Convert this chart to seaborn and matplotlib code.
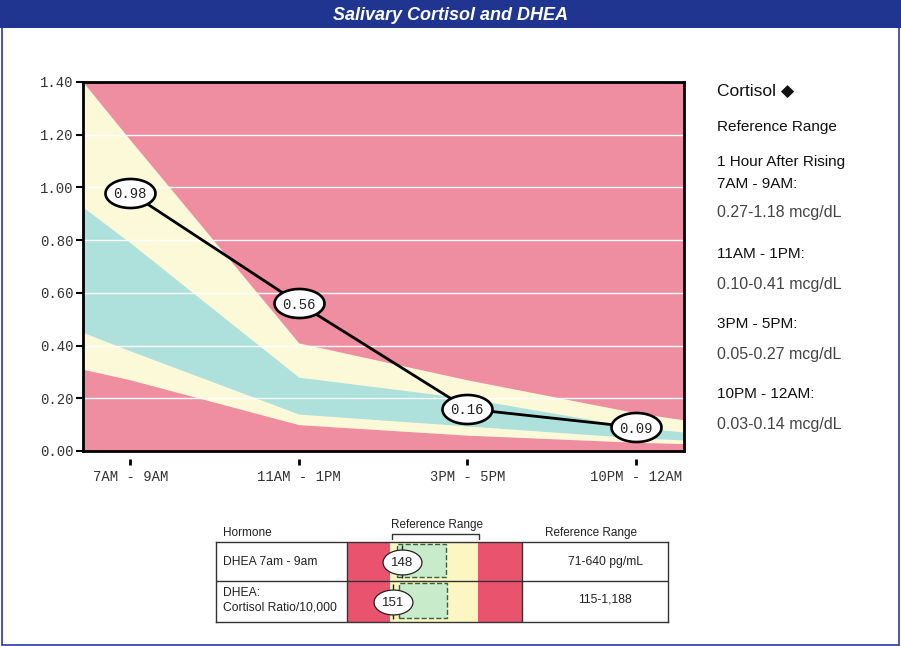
import numpy as np
import pandas as pd
import matplotlib
matplotlib.use("Agg")
import matplotlib.pyplot as plt
import matplotlib.transforms as mtransforms
from matplotlib.patches import Rectangle
from matplotlib.lines import Line2D
from matplotlib.path import Path
import seaborn as sns

# ---------------- data ----------------
times = ["7AM - 9AM", "11AM - 1PM", "3PM - 5PM", "10PM - 12AM"]
cortisol = [0.98, 0.56, 0.16, 0.09]
ref_low = [0.27, 0.10, 0.06, 0.033]
ref_high = [1.18, 0.41, 0.27, 0.145]
opt_low = [0.38, 0.14, 0.095, 0.05]
opt_high = [0.79, 0.28, 0.20, 0.09]
# band values where the bands meet the left / right plot edges
edge_ref_low = [0.31, 0.028]
edge_ref_high = [1.40, 0.118]
edge_opt_low = [0.45, 0.042]
edge_opt_high = [0.925, 0.072]

y_ticks = [0.0, 0.2, 0.4, 0.6, 0.8, 1.0, 1.2, 1.4]
y_tick_labels = ["0.00", "0.20", "0.40", "0.60", "0.80", "1.00", "1.20", "1.40"]

range_labels = ["7AM - 9AM:", "11AM - 1PM:", "3PM - 5PM:", "10PM - 12AM:"]
range_texts = ["0.27-1.18 mcg/dL", "0.10-0.41 mcg/dL", "0.05-0.27 mcg/dL", "0.03-0.14 mcg/dL"]

hormones = ["DHEA 7am - 9am", "DHEA:\nCortisol Ratio/10,000"]
hormone_values = [148, 151]
hormone_ref_low = [71, 115]
hormone_ref_high = [640, 1188]
hormone_opt_low = [115, 225]
hormone_opt_high = [430, 810]
hormone_ref_text = ["71-640 pg/mL", "115-1,188"]

# ---------------- style ----------------
PINK = "#ef8da1"
CREAM = "#fcf9d9"
TEAL = "#aee0dc"
RED = "#e9536d"
YELLOW = "#fbf6c2"
GREEN = "#c8ecca"
MONO = "Liberation Mono"

sns.set_theme(style="white")
plt.rcParams["font.family"] = ["Liberation Sans", "DejaVu Sans"]

W, H = 901, 646
fig = plt.figure(figsize=(W / 100, H / 100), dpi=100)
fig.patch.set_facecolor("white")


def fx(px):
    return px / W


def fy(py):
    return 1 - py / H


def ellipse_marker(ratio):
    t = np.linspace(0, 2 * np.pi, 121)
    return Path(np.column_stack([np.cos(t), ratio * np.sin(t)]))


# page frame and title bar
fig.add_artist(Rectangle((fx(2), fy(645)), fx(897), 643 / H, transform=fig.transFigure,
                         fill=False, ec="#2b3a9a", lw=1.2))
fig.add_artist(Rectangle((0, fy(28)), 1, 28 / H, transform=fig.transFigure,
                         fc="#1f3590", ec="none"))
fig.text(0.5, fy(15), "Salivary Cortisol and DHEA", color="white", fontsize=13,
         fontweight="bold", fontstyle="italic", ha="center", va="center")

# ---------------- main chart ----------------
L, R, T, B = 83, 684, 82, 451
ax = fig.add_axes([fx(L), fy(B), (R - L) / W, (B - T) / H])
ax.set_facecolor(PINK)
x0, x1 = -0.28, 3.285
pos = np.arange(len(times))
xs = np.concatenate([[x0], pos, [x1]])


def band(edge, vals):
    return np.array([edge[0]] + list(vals) + [edge[1]])


ax.fill_between(xs, band(edge_ref_low, ref_low), band(edge_ref_high, ref_high),
                color=CREAM, lw=0, zorder=1)
ax.fill_between(xs, band(edge_opt_low, opt_low), band(edge_opt_high, opt_high),
                color=TEAL, lw=0, zorder=1.1)
for yv in y_ticks[1:-1]:
    ax.axhline(yv, color="white", lw=1, zorder=2)

df = pd.DataFrame({"pos": pos, "cortisol": cortisol})
sns.lineplot(data=df, x="pos", y="cortisol", color="black", lw=2, ax=ax, zorder=3)
sns.scatterplot(data=df, x="pos", y="cortisol", marker=ellipse_marker(0.58), s=36 ** 2,
                color="white", edgecolor="black", linewidth=1.9, ax=ax, zorder=4)
for p, v in zip(pos, cortisol):
    ax.text(p, v, f"{v:.2f}", ha="center", va="center_baseline", family=MONO, fontsize=10,
            color="#222222", zorder=5)

ax.set_xlim(x0, x1)
ax.set_ylim(0, 1.4)
ax.set_xlabel("")
ax.set_ylabel("")
ax.set_yticks(y_ticks)
ax.set_yticklabels(y_tick_labels, family=MONO, fontsize=10, color="#333333")
ax.set_xticks(pos)
ax.set_xticklabels(times, family=MONO, fontsize=10, color="#333333")
ax.tick_params(axis="y", left=True, length=5, width=1.5, color="black", direction="out", pad=2)
ax.tick_params(axis="x", bottom=False, length=0, pad=14)
for s in ax.spines.values():
    s.set_visible(True)
    s.set_color("black")
    s.set_linewidth(2)
    s.set_zorder(6)
trans = mtransforms.blended_transform_factory(ax.transData, ax.transAxes)
ax.vlines(pos, -14 / 369, -8 / 369, transform=trans, color="black", lw=2, clip_on=False)

# ---------------- right panel ----------------
tx = fx(717)
fig.text(tx, fy(96), "Cortisol \u25c6", fontsize=12.5, color="#111111", va="baseline",
         family=["Liberation Sans", "DejaVu Sans"])
fig.text(tx, fy(131.5), "Reference Range", fontsize=11, color="#111111", va="baseline")
fig.text(tx, fy(166), "1 Hour After Rising", fontsize=11, color="#111111", va="baseline")
label_base = [188, 258, 328, 398]
value_base = [217.5, 289, 359, 429]
for lab, val, lb, vb in zip(range_labels, range_texts, label_base, value_base):
    fig.text(tx, fy(lb), lab, fontsize=11, color="#111111", va="baseline")
    fig.text(tx, fy(vb), val, fontsize=11.5, color="#444444", va="baseline")

# ---------------- DHEA table ----------------
TL, TR, TT, TB = 216, 668, 542, 622
row_bounds = [542, 581, 622]
c1, c2 = 347, 522
ys, ye = 390, 478  # yellow (reference range) pixel span inside bar column

for i in range(len(hormones)):
    top, bot = row_bounds[i], row_bounds[i + 1]
    rax = fig.add_axes([fx(c1), fy(bot), (c2 - c1) / W, (bot - top) / H])
    lo, hi = hormone_ref_low[i], hormone_ref_high[i]
    span = hi - lo
    xa = lo - span * (ys - c1) / (ye - ys)
    xb = hi + span * (c2 - ye) / (ye - ys)
    rax.set_xlim(xa, xb)
    rax.set_ylim(0, 1)
    rax.axis("off")
    rax.axvspan(xa, lo, color=RED, lw=0)
    rax.axvspan(lo, hi, color=YELLOW, lw=0)
    rax.axvspan(hi, xb, color=RED, lw=0)
    olo, ohi = hormone_opt_low[i], hormone_opt_high[i]
    rax.add_patch(Rectangle((olo, 0.09), ohi - olo, 0.86, fc=GREEN, ec="#3d5e45",
                            ls="--", lw=1, zorder=2))
    v = hormone_values[i]
    rax.vlines(v, 0.08, 0.92, color="#222222", lw=1, zorder=3)
    rax.scatter([v], [0.5], marker=ellipse_marker(0.64), s=28 ** 2, color="white",
                edgecolor="#222222", linewidth=0.9, zorder=4)
    rax.text(v, 0.5, str(v), ha="center", va="center_baseline", fontsize=9.5,
             color="#222222", zorder=5)

tax = fig.add_axes([fx(TL), fy(TB), (TR - TL) / W, (TB - TT) / H])
tax.set_xlim(TL, TR)
tax.set_ylim(TB, TT)
tax.patch.set_alpha(0)
tax.set_xticks([])
tax.set_yticks([])
for s in tax.spines.values():
    s.set_visible(True)
    s.set_color("#333333")
    s.set_linewidth(1)
tax.axhline(row_bounds[1], color="#333333", lw=1)
tax.axvline(c1, color="#333333", lw=1)
tax.axvline(c2, color="#333333", lw=1)
row_centers = [562, 600]
for name, rtxt, rc in zip(hormones, hormone_ref_text, row_centers):
    tax.text(223, rc, name, fontsize=8.7, color="#222222", va="center", ha="left", linespacing=1.3)
    tax.text(605, rc, rtxt, fontsize=8.7, color="#222222", va="center", ha="center")

# headers
fig.text(fx(223), fy(533), "Hormone", fontsize=8.5, color="#222222", va="center")
fig.text(fx(437), fy(525), "Reference Range", fontsize=8.5, color="#222222", va="center", ha="center")
fig.text(fx(591), fy(533), "Reference Range", fontsize=8.5, color="#222222", va="center", ha="center")
fig.add_artist(Line2D([fx(392), fx(392), fx(479), fx(479)], [fy(539), fy(534), fy(534), fy(539)],
                      transform=fig.transFigure, color="#333333", lw=1))

fig.savefig("out.png", dpi=100)
